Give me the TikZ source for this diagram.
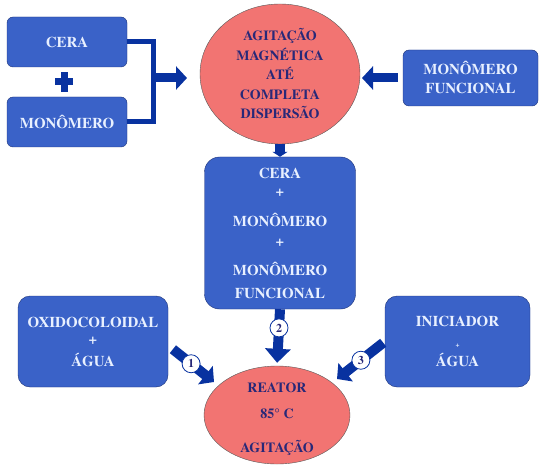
\documentclass[tikz,border=0pt]{standalone}
\usepackage{fontspec}
\setmainfont{texgyretermes}[Extension=.otf,UprightFont=*-regular,BoldFont=*-bold]
\usetikzlibrary{arrows.meta,shapes.geometric}
\definecolor{boxblue}{RGB}{58,98,200}
\definecolor{boxline}{RGB}{28,50,120}
\definecolor{boxtext}{RGB}{232,240,255}
\definecolor{salmon}{RGB}{242,116,114}
\definecolor{inktext}{RGB}{40,40,120}
\definecolor{arrowblue}{RGB}{8,50,160}
\tikzset{
  box/.style={draw=boxline,fill=boxblue,text=boxtext,rounded corners=6pt,align=center,
    font=\rmfamily\fontsize{15}{17}\selectfont\bfseries,inner sep=0pt},
  pot/.style={ellipse,draw=black!65,fill=salmon,text=inktext,align=center,
    font=\rmfamily\fontsize{14}{19.5}\selectfont\bfseries,inner sep=0pt},
  feed/.style={draw=arrowblue,line width=9pt,-{Triangle[length=11pt,width=23pt]}},
  stepno/.style={circle,draw=arrowblue,line width=.8pt,fill=white,text=inktext,inner sep=0pt,
    minimum size=18pt,font=\rmfamily\fontsize{12}{12}\selectfont\bfseries},
}

\begin{document}
\begin{tikzpicture}[x=1pt,y=-1pt]
\useasboundingbox (0,0) rectangle (540,465);
% entradas
\node[box,minimum width=120pt,minimum height=50pt] (cera) at (67,42) {CERA};
\node[box,minimum width=120pt,minimum height=50pt] (mono) at (67,122) {MONÔMERO};
\node[box,minimum width=135pt,minimum height=56pt] (func) at (470.5,78) {MONÔMERO\\[2pt] FUNCIONAL};
\node[pot,minimum width=160pt,minimum height=140pt] (agit) at (280,74)
  {AGITAÇÃO\\ MAGNÉTICA\\ ATÉ\\ COMPLETA\\ DISPERSÃO};
\node[box,rounded corners=15pt,minimum width=151pt,minimum height=152pt] (mix) at (280,233)
  {CERA\\[1pt] +\\[13pt] MONÔMERO\\[3pt] +\\[12pt] MONÔMERO\\[6pt] FUNCIONAL};
\node[box,rounded corners=12pt,minimum width=150pt,minimum height=91pt] (oxi) at (93,341.5)
  {OXIDOCOLOIDAL\\ +\\[5pt] ÁGUA};
\node[box,rounded corners=12pt,minimum width=145pt,minimum height=91pt] (ini) at (457.5,341.5)
  {INICIADOR\\[4pt] {\fontsize{7}{7}\selectfont +}\\[2pt] ÁGUA};
\node[pot,minimum width=146pt,minimum height=98pt] (reac) at (277,415) {};
\node[text=inktext,align=center,font=\rmfamily\fontsize{14}{19}\selectfont\bfseries] (reactxt)
  at ([yshift=-4pt]reac.center) {REATOR\\[7pt] 85° C\\[15pt] AGITAÇÃO};
% sinal de mais
\path (cera.south) -- (mono.north) coordinate[midway] (plus);
\draw[arrowblue,line width=7pt] ([shift={(-3pt,-10pt)}]plus) -- ([shift={(-3pt,10pt)}]plus)
  ([shift={(-12pt,0pt)}]plus) -- ([shift={(6pt,0pt)}]plus);
% ligacoes
\coordinate (junc) at (153,78);
\coordinate (jtip) at (187,78);
\coordinate (ftip) at (362,78);
\coordinate (in1) at (214,382);
\coordinate (in3) at (337,379);
\draw[arrowblue,line width=5pt] (cera.east) -| (junc) |- (mono.east);
\draw[feed] (junc) -- (jtip);
\draw[feed,shorten <=5pt] (func.west) -- (ftip);
\draw[draw=arrowblue,line width=10pt,-{Triangle[length=5pt,width=15pt]}] (agit.south) -- (mix.north);
\draw[feed,line width=10pt,-{Triangle[length=14pt,width=25pt]},shorten >=3pt] (mix.south) -- (reac.north)
  node[stepno,pos=.33] (s2) {2};
\draw[feed,line width=10pt,shorten <=6pt] ([yshift=-4pt]oxi.east) -- (in1) node[stepno,midway] (s1) {1};
\draw[feed,line width=10pt,shorten <=2pt] (ini.west) -- (in3) node[stepno,midway] (s3) {3};
\end{tikzpicture}
\end{document}
